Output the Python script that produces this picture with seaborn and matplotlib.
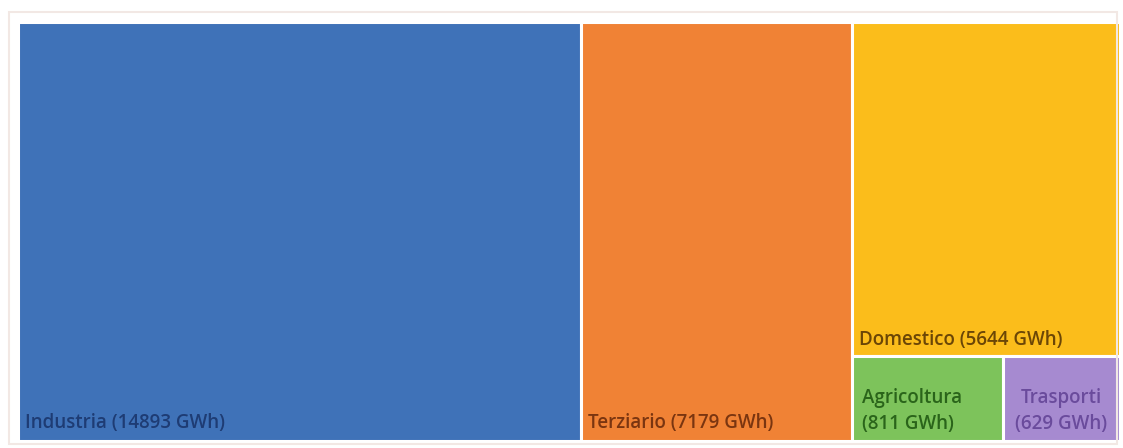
import matplotlib
matplotlib.use("Agg")
import matplotlib.pyplot as plt
import seaborn as sns
import pandas as pd
from matplotlib.patches import Rectangle

categories = ["Industria", "Terziario", "Domestico", "Agricoltura", "Trasporti"]
values = [14893, 7179, 5644, 811, 629]
labels = ["Industria (14893 GWh)", "Terziario (7179 GWh)", "Domestico (5644 GWh)",
          "Agricoltura\n(811 GWh)", "Trasporti\n(629 GWh)"]

colors = ["#3f72b8", "#f08235", "#fbbd1b", "#7dc35b", "#a68ad0"]
text_colors = ["#1e3c74", "#7a3510", "#6b4606", "#2a641a", "#6a4b9c"]

sns.set_theme(style="white")
plt.rcParams["font.family"] = ["Open Sans", "DejaVu Sans"]

total = sum(values)
v = dict(zip(categories, values))

# slice-and-dice layout computed from values
x0 = 0.0
rects = {}
rects["Industria"] = (x0, 0.0, v["Industria"], 1.0)
x0 += v["Industria"]
rects["Terziario"] = (x0, 0.0, v["Terziario"], 1.0)
x0 += v["Terziario"]
rest = v["Domestico"] + v["Agricoltura"] + v["Trasporti"]
small = v["Agricoltura"] + v["Trasporti"]
h_small = small / rest
rects["Domestico"] = (x0, h_small, rest, 1.0 - h_small)
rects["Agricoltura"] = (x0, 0.0, rest * v["Agricoltura"] / small, h_small)
rects["Trasporti"] = (x0 + rest * v["Agricoltura"] / small, 0.0,
                      rest * v["Trasporti"] / small, h_small)

df = pd.DataFrame({
    "cat": categories,
    "left": [rects[c][0] for c in categories],
    "bottom": [rects[c][1] for c in categories],
    "width": [rects[c][2] for c in categories],
    "height": [rects[c][3] for c in categories],
})

fig = plt.figure(figsize=(11.23, 4.48), dpi=100)
fig.patch.set_facecolor("white")
# faint outer frame
fig.add_artist(Rectangle((9 / 1123, 4 / 448), 1108 / 1123, 432 / 448,
                         transform=fig.transFigure, fill=False,
                         edgecolor="#f2e8e4", linewidth=1.5))
ax = fig.add_axes([18 / 1123, 7 / 448, 1102 / 1123, 419 / 448])

ax.bar(df["left"], df["height"], width=df["width"], bottom=df["bottom"],
       align="edge", color=colors, edgecolor="white", linewidth=2.2)

ax.set_xlim(0, total)
ax.set_ylim(0, 1)
ax.axis("off")

pad_x = total * 7 / 1102
fs = 13.5
fw = "semibold"
for c, lab, tc in zip(categories, labels, text_colors):
    l, b, w, h = rects[c]
    if c in ("Industria", "Terziario"):
        ax.text(l + pad_x, b + 0.042, lab, ha="left", va="center",
                fontsize=fs, color=tc, fontweight=fw)
    elif c == "Domestico":
        ax.text(l + pad_x, b + 0.038, lab, ha="left", va="center",
                fontsize=fs, color=tc, fontweight=fw)
    elif c == "Agricoltura":
        ax.text(l + total * 10 / 1102, b + h / 2 - 0.03, lab, ha="left", va="center",
                fontsize=fs, color=tc, linespacing=1.45, fontweight=fw)
    else:
        ax.text(l + w / 2, b + h / 2 - 0.03, lab, ha="center", va="center",
                fontsize=fs, color=tc, linespacing=1.45, fontweight=fw)

fig.savefig("out.png", dpi=100)
